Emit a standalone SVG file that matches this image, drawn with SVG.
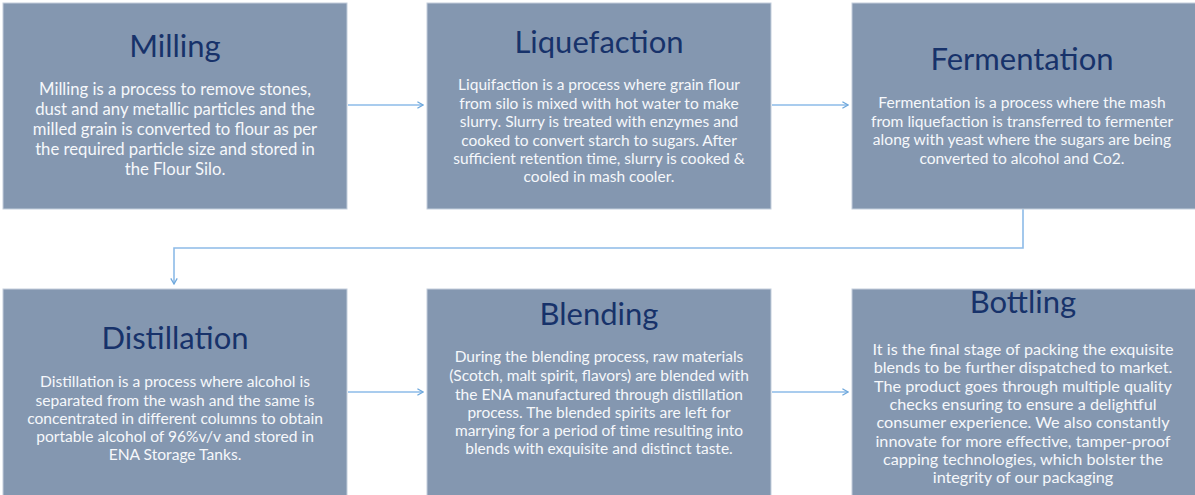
<svg xmlns="http://www.w3.org/2000/svg" width="1195" height="495" viewBox="0 0 1195 495">
<defs>
<style>
.box{fill:#8497b0;stroke:#c3cedc;stroke-width:1}
.title{font-family:Lato,"Open Sans",sans-serif;font-size:31px;fill:#17326a;text-anchor:middle}
.body{font-family:Lato,"Open Sans",sans-serif;font-size:15.5px;fill:#f6f8fb;text-anchor:middle}
.conn{fill:none;stroke:#8dbbe8;stroke-width:1.6}
</style>
<marker id="arr" viewBox="0 0 10 10" refX="9" refY="5" markerWidth="8" markerHeight="8" markerUnits="userSpaceOnUse" orient="auto">
<polyline points="2,1 9,5 2,9" fill="none" stroke="#6fa8dc" stroke-width="1.6"/>
</marker>
</defs>
<rect width="1195" height="495" fill="#ffffff"/>
<g id="connectors">
<line class="conn" x1="348" y1="105" x2="423" y2="105" marker-end="url(#arr)"/>
<line class="conn" x1="772" y1="105" x2="848" y2="105" marker-end="url(#arr)"/>
<polyline class="conn" points="1023,209 1023,248 174,248 174,284" marker-end="url(#arr)"/>
<line class="conn" x1="348" y1="392" x2="423" y2="392" marker-end="url(#arr)"/>
<line class="conn" x1="772" y1="392" x2="848" y2="392" marker-end="url(#arr)"/>
</g>
<g id="milling">
<rect class="box" x="3" y="3" width="344" height="206"/>
<text class="title" x="175" y="57">Milling</text>
<text class="body" style="font-size:16.7px"><tspan x="175" y="95">Milling is a process to remove stones,</tspan><tspan x="175" y="115">dust and any metallic particles and the</tspan><tspan x="175" y="135">milled grain is converted to flour as per</tspan><tspan x="175" y="155">the required particle size and stored in</tspan><tspan x="175" y="175">the Flour Silo.</tspan></text>
</g>
<g id="liquefaction">
<rect class="box" x="427" y="3" width="344" height="206"/>
<text class="title" x="599" y="53">Liquefaction</text>
<text class="body"><tspan x="599" y="90">Liquifaction is a process where grain flour</tspan><tspan x="599" y="109">from silo is mixed with hot water to make</tspan><tspan x="599" y="127">slurry. Slurry is treated with enzymes and</tspan><tspan x="599" y="146">cooked to convert starch to sugars. After</tspan><tspan x="599" y="164">sufficient retention time, slurry is cooked &amp;</tspan><tspan x="599" y="182">cooled in mash cooler.</tspan></text>
</g>
<g id="fermentation">
<rect class="box" x="852" y="3" width="345" height="206"/>
<text class="title" x="1022" y="70">Fermentation</text>
<text class="body" style="font-size:15.6px"><tspan x="1022" y="108">Fermentation is a process where the mash</tspan><tspan x="1022" y="127">from liquefaction is transferred to fermenter</tspan><tspan x="1022" y="145">along with yeast where the sugars are being</tspan><tspan x="1022" y="164">converted to alcohol and Co2.</tspan></text>
</g>
<g id="distillation">
<rect class="box" x="3" y="289" width="344" height="210"/>
<text class="title" x="175" y="349">Distillation</text>
<text class="body" style="font-size:15.6px"><tspan x="175" y="387">Distillation is a process where alcohol is</tspan><tspan x="175" y="406">separated from the wash and the same is</tspan><tspan x="175" y="424">concentrated in different columns to obtain</tspan><tspan x="175" y="442">portable alcohol of 96%v/v and stored in</tspan><tspan x="175" y="460">ENA Storage Tanks.</tspan></text>
</g>
<g id="blending">
<rect class="box" x="427" y="289" width="344" height="210"/>
<text class="title" x="599" y="325">Blending</text>
<text class="body"><tspan x="599" y="362">During the blending process, raw materials</tspan><tspan x="599" y="381">(Scotch, malt spirit, flavors) are blended with</tspan><tspan x="599" y="400">the ENA manufactured through distillation</tspan><tspan x="599" y="418">process. The blended spirits are left for</tspan><tspan x="599" y="436">marrying for a period of time resulting into</tspan><tspan x="599" y="454">blends with exquisite and distinct taste.</tspan></text>
</g>
<g id="bottling">
<rect class="box" x="852" y="289" width="345" height="210"/>
<text class="title" x="1023" y="313">Bottling</text>
<text class="body" style="font-size:16.2px"><tspan x="1023" y="355">It is the final stage of packing the exquisite</tspan><tspan x="1023" y="373">blends to be further dispatched to market.</tspan><tspan x="1023" y="392">The product goes through multiple quality</tspan><tspan x="1023" y="410">checks ensuring to ensure a delightful</tspan><tspan x="1023" y="428">consumer experience. We also constantly</tspan><tspan x="1023" y="447">innovate for more effective, tamper-proof</tspan><tspan x="1023" y="465">capping technologies, which bolster the</tspan><tspan x="1023" y="483">integrity of our packaging</tspan></text>
</g>
</svg>
